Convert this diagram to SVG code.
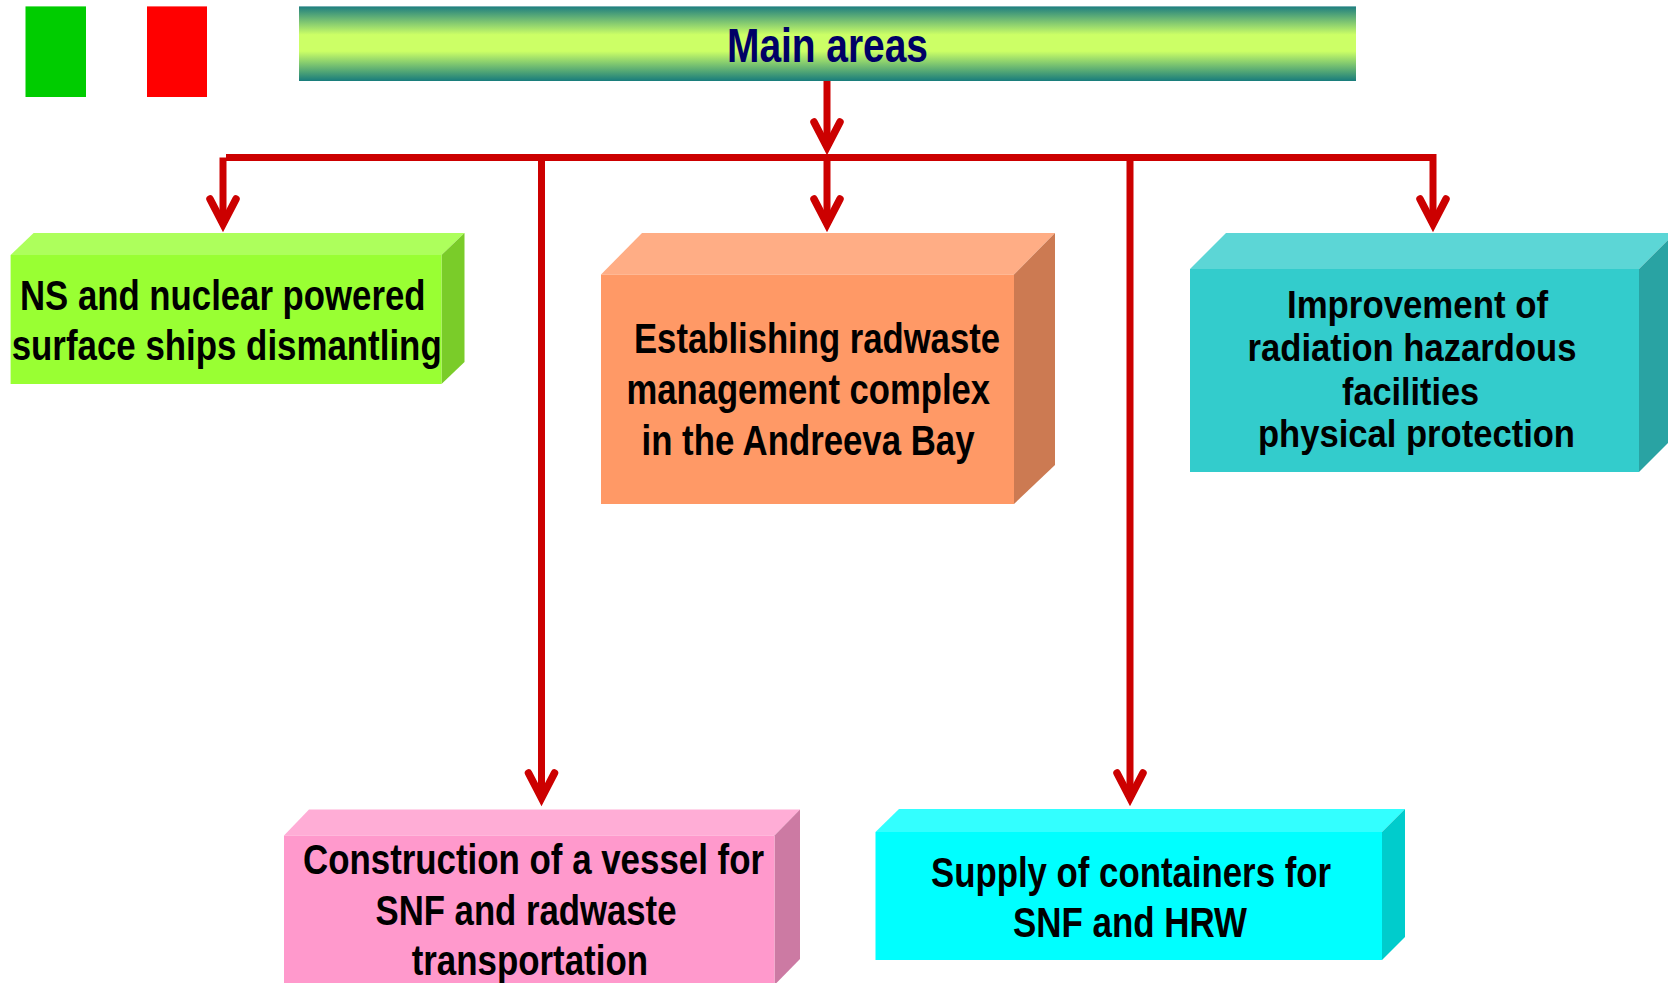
<svg xmlns="http://www.w3.org/2000/svg" width="1668" height="983" viewBox="0 0 1668 983">
<style>
.t{font-family:"Liberation Sans",Arial,sans-serif;font-weight:bold;font-size:42px;fill:#000}
.tt{font-size:39px}
.conn{fill:none;stroke:#CC0000;stroke-width:7;stroke-linejoin:miter}
.wing{fill:none;stroke:#CC0000;stroke-width:7.5;stroke-linejoin:miter;stroke-linecap:round}
</style>
<defs>
<linearGradient id="hdr" x1="0" y1="0" x2="0" y2="1">
<stop offset="0" stop-color="#1E7E80"/>
<stop offset="0.38" stop-color="#CCFF66"/>
<stop offset="0.6" stop-color="#CCFF66"/>
<stop offset="1" stop-color="#187C7C"/>
</linearGradient>
<marker id="arr" markerUnits="userSpaceOnUse" viewBox="-40 -25 50 50" refX="0" refY="0" markerWidth="50" markerHeight="50" orient="auto" overflow="visible">
<path class="wing" d="M-25,-13 L0,0 L-25,13"/>
</marker>
</defs>
<rect width="1668" height="983" fill="#fff"/>
<g id="legend">
<rect x="25.5" y="6.4" width="60.5" height="90.6" fill="#00CC00"/>
<rect x="147" y="6.4" width="60" height="90.6" fill="#FF0000"/>
</g>
<g id="header">
<rect x="299" y="6.4" width="1057" height="74.6" fill="url(#hdr)"/>
<text class="t" x="727" y="62" style="font-size:49px;fill:#000066" textLength="201" lengthAdjust="spacingAndGlyphs">Main areas</text>
</g>
<g id="connectors">
<path class="conn" d="M827,81 V147" marker-end="url(#arr)"/>
<path class="conn" d="M1433,157.5 H226"/>
<path class="conn" d="M223,157.5 V224" marker-end="url(#arr)"/>
<path class="conn" d="M541.5,157.5 V798" marker-end="url(#arr)"/>
<path class="conn" d="M827,157.5 V224" marker-end="url(#arr)"/>
<path class="conn" d="M1130,157.5 V798" marker-end="url(#arr)"/>
<path class="conn" d="M1433,154 V224" marker-end="url(#arr)"/>
</g>
<g id="node-dismantling">
<polygon points="10.6,255 33.6,233 464.5,233 441.5,255" fill="#ADFF5C"/>
<polygon points="441.5,255 464.5,233 464.5,362 441.5,384" fill="#7ACC29"/>
<rect x="10.6" y="255" width="430.9" height="129" fill="#99FF33"/>
<text class="t" x="20" y="310" textLength="405.5" lengthAdjust="spacingAndGlyphs">NS and nuclear powered</text>
<text class="t" x="11.7" y="360" textLength="430" lengthAdjust="spacingAndGlyphs">surface ships dismantling</text>
</g>
<g id="node-radwaste-complex">
<polygon points="601,274.5 642,233 1055,233 1014,274.5" fill="#FFAD85"/>
<polygon points="1014,274.5 1055,233 1055,465 1014,504" fill="#CC7A52"/>
<rect x="601" y="274.5" width="413" height="229.5" fill="#FF9966"/>
<text class="t" x="634" y="352.7" textLength="366" lengthAdjust="spacingAndGlyphs">Establishing radwaste</text>
<text class="t" x="626.5" y="404" textLength="363.5" lengthAdjust="spacingAndGlyphs">management complex</text>
<text class="t" x="641.5" y="455" textLength="333" lengthAdjust="spacingAndGlyphs">in the Andreeva Bay</text>
</g>
<g id="node-protection">
<polygon points="1190,269 1226,233 1675,233 1639,269" fill="#5CD6D6"/>
<polygon points="1639,269 1675,233 1675,436 1639,472" fill="#29A3A3"/>
<rect x="1190" y="269" width="449" height="203" fill="#33CCCC"/>
<text class="t tt" x="1287" y="318" textLength="261" lengthAdjust="spacingAndGlyphs">Improvement of</text>
<text class="t tt" x="1247.5" y="361" textLength="329" lengthAdjust="spacingAndGlyphs">radiation hazardous</text>
<text class="t tt" x="1342" y="405" textLength="137" lengthAdjust="spacingAndGlyphs">facilities</text>
<text class="t tt" x="1258" y="447" textLength="317" lengthAdjust="spacingAndGlyphs">physical protection</text>
</g>
<g id="node-vessel">
<polygon points="284,835.5 309,809.5 800,809.5 774.5,835.5" fill="#FFADD6"/>
<polygon points="774.5,835.5 800,809.5 800,959 774.5,985" fill="#CC7AA3"/>
<rect x="284" y="835.5" width="490.5" height="155" fill="#FF99CC"/>
<text class="t" x="303" y="874" textLength="461" lengthAdjust="spacingAndGlyphs">Construction of a vessel for</text>
<text class="t" x="375.5" y="925" textLength="301" lengthAdjust="spacingAndGlyphs">SNF and radwaste</text>
<text class="t" x="411.7" y="975" textLength="236.3" lengthAdjust="spacingAndGlyphs">transportation</text>
</g>
<g id="node-containers">
<polygon points="875.5,832 899,809 1405,809 1382,832" fill="#33FFFF"/>
<polygon points="1382,832 1405,809 1405,937 1382,960" fill="#00CCCC"/>
<rect x="875.5" y="832" width="506.5" height="128" fill="#00FFFF"/>
<text class="t" x="931" y="886.7" textLength="400" lengthAdjust="spacingAndGlyphs">Supply of containers for</text>
<text class="t" x="1013" y="936.7" textLength="234" lengthAdjust="spacingAndGlyphs">SNF and HRW</text>
</g>
</svg>
